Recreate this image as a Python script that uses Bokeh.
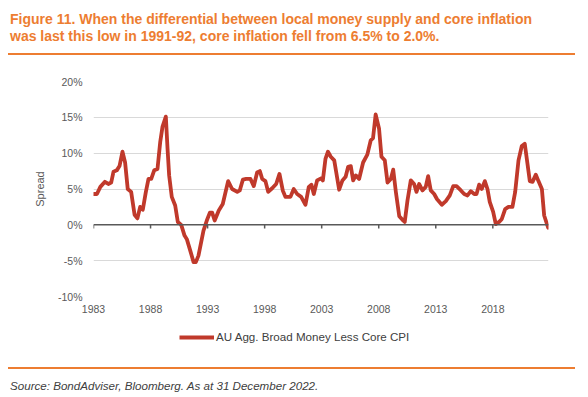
from bokeh.plotting import figure
from bokeh.layouts import column
from bokeh.models import (Range1d, FixedTicker, Span, Legend, LegendItem, Div)
from bokeh.embed import file_html
from bokeh.resources import INLINE

# ---------------- data ----------------
title_lines = [
    "Figure 11. When the differential between local money supply and core inflation",
    "was last this low in 1991-92, core inflation fell from 6.5% to 2.0%.",
]
source_text = "Source: BondAdviser, Bloomberg. As at 31 December 2022."
series_name = "AU Agg. Broad Money Less Core CPI"
y_axis_title = "Spread"

x_ticks = [1983, 1988, 1993, 1998, 2003, 2008, 2013, 2018]
y_ticks = [-10, -5, 0, 5, 10, 15, 20]
y_tick_labels = ["-10%", "-5%", "0%", "5%", "10%", "15%", "20%"]

dates = [
    1983.0, 1983.3, 1983.6, 1984.0, 1984.3, 1984.55, 1984.75, 1985.04, 1985.28,
    1985.54, 1985.77, 1986.0, 1986.3, 1986.6, 1986.85, 1987.09, 1987.32, 1987.59,
    1987.82, 1988.06, 1988.32, 1988.61, 1988.85, 1989.05, 1989.34, 1989.49,
    1989.63, 1989.86, 1990.16, 1990.39, 1990.69, 1990.98, 1991.18, 1991.48,
    1991.77, 1991.97, 1992.2, 1992.64, 1992.93, 1993.2, 1993.4, 1993.62, 1993.98,
    1994.33, 1994.8, 1995.15, 1995.6, 1995.82, 1996.09, 1996.38, 1996.76, 1997.05,
    1997.34, 1997.58, 1997.79, 1998.07, 1998.31, 1998.66, 1999.01, 1999.3,
    1999.59, 1999.82, 2000.26, 2000.55, 2000.85, 2001.2, 2001.58, 2001.87, 2002.1,
    2002.31, 2002.6, 2002.98, 2003.1, 2003.33, 2003.55, 2003.8, 2004.1, 2004.3,
    2004.53, 2004.82, 2005.1, 2005.32, 2005.55, 2005.76, 2005.99, 2006.28,
    2006.63, 2007.0, 2007.3, 2007.5, 2007.73, 2008.03, 2008.24, 2008.53, 2008.77,
    2009.06, 2009.27, 2009.5, 2009.8, 2010.08, 2010.28, 2010.52, 2010.81, 2011.1,
    2011.31, 2011.54, 2011.83, 2012.12, 2012.33, 2012.56, 2012.86, 2013.1,
    2013.53, 2013.88, 2014.23, 2014.53, 2014.82, 2015.2, 2015.49, 2015.78,
    2016.07, 2016.37, 2016.57, 2016.8, 2017.03, 2017.3, 2017.53, 2017.73,
    2018.03, 2018.26, 2018.55, 2018.78, 2019.08, 2019.37, 2019.72, 2019.96,
    2020.25, 2020.54, 2020.8, 2021.04, 2021.24, 2021.48, 2021.77, 2022.0,
    2022.3, 2022.5, 2022.85,
]
spread = [
    4.3, 4.3, 5.3, 6.0, 5.7, 5.9, 7.4, 7.6, 8.2,
    10.2, 8.7, 5.0, 4.6, 1.4, 0.9, 2.5, 2.1, 4.6,
    6.4, 6.4, 7.6, 7.8, 11.6, 13.7, 15.1, 10.6,
    6.9, 3.9, 2.7, 0.4, 0.0, -1.5, -2.0, -3.6,
    -5.2, -5.2, -4.3, -0.8, 0.6, 1.7, 1.7, 0.6, 2.0,
    2.9, 6.1, 5.0, 4.6, 4.8, 6.3, 6.4, 6.4, 5.4,
    7.3, 7.5, 6.4, 6.1, 4.6, 5.1, 5.7, 7.1,
    4.8, 3.9, 3.9, 5.0, 4.3, 3.9, 2.8, 5.3, 5.6,
    4.3, 6.2, 6.5, 6.2, 9.2, 10.2, 9.5, 9.0, 7.1,
    4.9, 6.2, 6.7, 8.1, 8.2, 6.2, 6.9, 6.4,
    8.7, 9.8, 11.8, 12.1, 15.4, 13.4, 9.5, 9.0, 5.9,
    6.4, 7.7, 4.6, 1.2, 0.7, 0.4, 3.4, 6.2, 5.7,
    4.6, 5.7, 4.8, 5.3, 6.8, 4.8, 4.3, 3.6,
    2.8, 3.3, 4.1, 5.4, 5.4, 4.8, 4.3, 4.1,
    4.7, 4.3, 4.3, 5.6, 5.0, 6.1, 5.0, 3.2,
    1.8, 0.1, 0.4, 0.8, 2.2, 2.5, 2.5, 4.6,
    9.0, 11.0, 11.3, 8.5, 6.1, 6.0, 7.0, 6.1,
    5.0, 1.3, -0.4,
]

# ---------------- style ----------------
ORANGE = "#ED7D31"
LINE_RED = "#C0392B"
GRAY = "#595959"
DARK = "#404040"
FONT = "Liberation Sans"
W = 588
LINE_W = 3.8

# ---- header (title + orange rule) ----
t_style = ("position:absolute;left:10px;white-space:nowrap;font-family:'Liberation Sans';"
           "font-weight:bold;font-size:14px;line-height:14px;color:%s;" % ORANGE)
header_html = (
    '<div style="position:relative;width:588px;height:60px;margin:0;padding:0;">'
    f'<div style="{t_style}top:12.2px;">{title_lines[0]}</div>'
    f'<div style="{t_style}top:28.9px;">{title_lines[1]}</div>'
    f'<div style="position:absolute;left:8px;top:52.7px;width:567px;height:2px;background:{ORANGE};"></div>'
    '</div>'
)
header = Div(text=header_html, width=W, height=60, margin=0)

# ---- main chart ----
p = figure(width=W, height=262, output_backend="svg", toolbar_location=None,
           title=None, x_range=Range1d(1983, 2022.88), y_range=Range1d(-10, 20),
           min_border_left=93, min_border_right=40,
           min_border_top=21, min_border_bottom=26)
p.outline_line_color = None

r = p.line(dates, spread, line_color=LINE_RED, line_width=LINE_W,
           line_join="round", line_cap="round")

p.xaxis.ticker = FixedTicker(ticks=x_ticks)
p.xaxis.major_label_overrides = {t: str(t) for t in x_ticks}
p.xaxis.axis_line_color = None
p.xaxis.major_tick_line_color = None
p.xaxis.minor_tick_line_color = None
p.xaxis.major_tick_out = 0
p.xaxis.major_tick_in = 0
p.xaxis.major_label_standoff = 8
p.xaxis.major_label_text_font = FONT
p.xaxis.major_label_text_font_size = "10.5px"
p.xaxis.major_label_text_color = GRAY

p.yaxis.ticker = FixedTicker(ticks=y_ticks)
p.yaxis.major_label_overrides = dict(zip(y_ticks, y_tick_labels))
p.yaxis.axis_line_color = None
p.yaxis.major_tick_line_color = None
p.yaxis.minor_tick_line_color = None
p.yaxis.major_tick_out = 0
p.yaxis.major_tick_in = 0
p.yaxis.major_label_standoff = 11
p.yaxis.major_label_text_font = FONT
p.yaxis.major_label_text_font_size = "10.5px"
p.yaxis.major_label_text_color = GRAY
p.yaxis.axis_label = y_axis_title
p.yaxis.axis_label_text_font = FONT
p.yaxis.axis_label_text_font_size = "11px"
p.yaxis.axis_label_text_font_style = "normal"
p.yaxis.axis_label_text_color = GRAY
p.yaxis.axis_label_standoff = 9

p.xgrid.grid_line_color = None
p.ygrid.grid_line_color = "#D9D9D9"
p.ygrid.grid_line_width = 1

p.add_layout(Span(location=0, dimension="width", line_color=GRAY, line_width=1.5))
p.segment(x0=x_ticks, y0=[0] * len(x_ticks), x1=x_ticks, y1=[-0.5] * len(x_ticks),
          line_color=GRAY, line_width=1.5)

# ---- legend strip (its own small figure; legend sample drawn by the library) ----
lg = figure(width=W, height=35, output_backend="svg", toolbar_location=None,
            title=None, x_range=Range1d(1983, 2022.88), y_range=Range1d(-10, 20),
            x_axis_type=None, y_axis_type=None, min_border=0)
lg.outline_line_color = None
lg.xgrid.visible = False
lg.ygrid.visible = False
lr = lg.line(dates, spread, line_color=LINE_RED, line_width=LINE_W, visible=False)
legend = Legend(items=[LegendItem(label=series_name, renderers=[lr])],
                location=(86, 14), orientation="horizontal",
                glyph_width=35, glyph_height=12, label_height=12,
                label_standoff=2, padding=0, margin=0, spacing=0,
                border_line_color=None, background_fill_alpha=0,
                inactive_fill_alpha=0, click_policy="none",
                label_text_font=FONT, label_text_font_size="11.6px",
                label_text_color=DARK)
lg.add_layout(legend)

# ---- footer (orange rule + source) ----
footer_html = (
    '<div style="position:relative;width:588px;height:40px;margin:0;padding:0;">'
    f'<div style="position:absolute;left:8px;top:10px;width:567px;height:2px;background:{ORANGE};"></div>'
    "<div style=\"position:absolute;left:10px;top:23.2px;white-space:nowrap;"
    "font-family:'Liberation Sans';font-style:italic;font-size:11.6px;line-height:11.6px;"
    f"color:{DARK};\">{source_text}</div>"
    '</div>'
)
footer = Div(text=footer_html, width=W, height=40, margin=0)

layout = column(header, p, lg, footer, spacing=0)
open("out.html", "w").write(file_html(layout, INLINE))
